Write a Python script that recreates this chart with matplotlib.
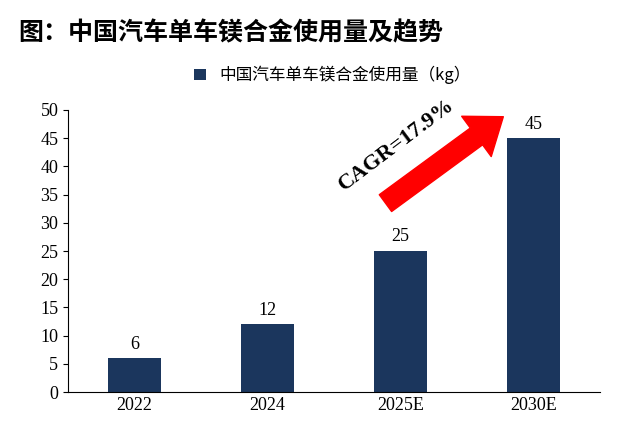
import matplotlib.pyplot as plt
from matplotlib.patches import FancyArrowPatch

plt.rcParams['font.family'] = ['Liberation Serif', 'Noto Sans CJK SC']

years = ['2022', '2024', '2025E', '2030E']
usage = [6, 12, 25, 45]
bar_color = '#1B365D'

fig = plt.figure(figsize=(6.39, 4.44), dpi=100)
ax = fig.add_axes([68/639, 1-392/444, 532/639, 282/444])

x = range(len(years))
bars = ax.bar(x, usage, width=0.4, color=bar_color, label='中国汽车单车镁合金使用量（kg）')
for xi, v in zip(x, usage):
    ax.text(xi, v + 1, str(v), ha='center', va='bottom', fontsize=13)

ax.set_xlim(-0.5, 3.5)
ax.set_ylim(0, 50)
ax.set_yticks(range(0, 51, 5))
ax.set_xticks(list(x))
ax.set_xticklabels(years)
ax.tick_params(axis='both', labelsize=13)
ax.tick_params(axis='x', length=0)
ax.spines['top'].set_visible(False)
ax.spines['right'].set_visible(False)

arrow = FancyArrowPatch((1.87, 33.2), (2.79, 49.1), arrowstyle='simple,head_width=2.4,head_length=1.6,tail_width=1.0',
                        mutation_scale=15, color='#FF0000', clip_on=False)
ax.add_patch(arrow)
ax.text(1.97, 43.8, 'CAGR=17.9%', rotation=37, ha='center', va='center',
        fontsize=16, fontweight='bold')

fig.legend(handles=[bars], loc='center', bbox_to_anchor=(0.52, 1-75/444), frameon=False,
           handlelength=0.7, handleheight=0.7, prop={'family': ['Noto Sans CJK SC'], 'size': 12})
fig.text(18/639, 1-33/444, '图：中国汽车单车镁合金使用量及趋势', fontsize=18, fontweight='bold',
         family=['Noto Sans CJK SC'], va='center')

fig.savefig('out.png', dpi=100)
